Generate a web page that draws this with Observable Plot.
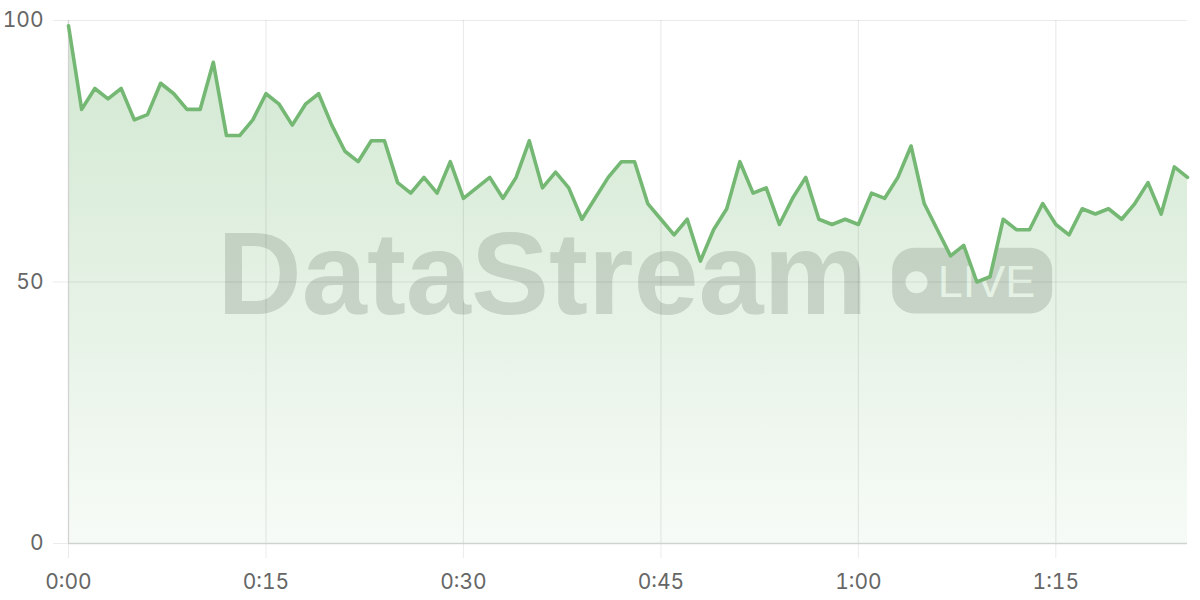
<!DOCTYPE html>
<html><head><meta charset="utf-8">
<script src="https://cdn.jsdelivr.net/npm/d3@7"></script>
<script src="https://cdn.jsdelivr.net/npm/@observablehq/plot@0.6"></script>
<style>body{margin:0;background:#fff} #chart svg{display:block}</style>
</head><body><div id="chart"></div>
<script>
// value per minute, 0:00 .. 1:25
const values = [99,83,87,85,87,81,82,88,86,83,83,92,78,78,81,86,84,80,84,86,
  80,75,73,77,77,69,67,70,67,73,66,68,70,66,70,77,68,71,68,62,
  66,70,73,73,65,62,59,62,54,60,64,73,67,68,61,66,70,62,61,62,
  61,67,66,70,76,65,60,55,57,50,51,62,60,60,65,61,59,64,63,64,
  62,65,69,63,72,70];
const xTicks = [0,15,30,45,60,75];
const yTicks = [0,50,100];
const watermark = "DataStream";
const badgeLabel = "LIVE";

const data = values.map((v, i) => ({minute: i, value: v}));
const fmt = m => `${Math.floor(m / 60)}:${String(m % 60).padStart(2, "0")}`;
const W = 1200, H = 600, mL = 68, mR = 13, mT = 20, mB = 57;
const cx = (mL + W - mR) / 2, cy = (mT + H - mB) / 2;
const green = "#74b874";
const wmColor = "#d9d9d9";

const plot = Plot.plot({
  width: W, height: H,
  marginLeft: mL, marginRight: mR, marginTop: mT, marginBottom: mB,
  style: {fontFamily: "Inter, 'Noto Sans', sans-serif", fontSize: "21px", color: "#666", background: "#fff", overflow: "visible"},
  x: {domain: [0, 85], label: null},
  y: {domain: [0, 100], label: null},
  marks: [
    // watermark
    Plot.text([watermark], {text: d => d, frameAnchor: "middle", dx: 542 - cx, dy: -5.6,
      fontSize: 117, fontWeight: "bold", fontFamily: "'Liberation Sans', Arial, sans-serif", fill: wmColor}),
    Plot.frame({fill: wmColor, stroke: "none", rx: 22,
      insetLeft: 891.7 - mL, insetRight: (W - mR) - 1051.7, insetTop: 247.3 - mT, insetBottom: (H - mB) - 313}),
    Plot.frame({fill: "#fff", stroke: "none", rx: 11,
      insetLeft: 905 - mL, insetRight: (W - mR) - 927, insetTop: 270.7 - mT, insetBottom: (H - mB) - 292.7}),
    Plot.text([badgeLabel], {text: d => d, frameAnchor: "middle", dx: 986 - cx, dy: 0.5,
      fontSize: 45, fontFamily: "'Liberation Sans', Arial, sans-serif", fill: "#fff"}),
    // gradient area
    Plot.areaY(data, {x: "minute", y: "value", fill: "url(#areaGrad)"}),
    // mask above the line
    Plot.areaY(data, {x: "minute", y1: "value", y2: () => 100, fill: "#fff"}),
    // grid
    Plot.gridX(xTicks, {stroke: "#000", strokeOpacity: 0.08, strokeWidth: 1.2}),
    Plot.gridY(yTicks, {stroke: "#000", strokeOpacity: 0.08, strokeWidth: 1.2}),
    Plot.axisX({ticks: xTicks, tickFormat: fmt, tickSize: 15, tickPadding: 16, stroke: "#000", strokeOpacity: 0.08, label: null}),
    Plot.axisY({ticks: yTicks, tickSize: 15, tickPadding: 10, stroke: "#000", strokeOpacity: 0.08, label: null}),
    Plot.ruleX([0], {stroke: "#d2d2d2", strokeWidth: 1.2}),
    Plot.ruleY([0], {stroke: "#cfd3cf", strokeWidth: 1.6}),
    // line
    Plot.line(data, {x: "minute", y: "value", stroke: green, strokeWidth: 3.6, strokeLinejoin: "round"})
  ]
});

const svg = d3.select(plot);
const defs = svg.insert("defs", ":first-child");
const lg = defs.append("linearGradient").attr("id", "areaGrad")
  .attr("x1", 0).attr("y1", 0).attr("x2", 0).attr("y2", 1);
lg.append("stop").attr("offset", "0%").attr("stop-color", green).attr("stop-opacity", 0.33);
lg.append("stop").attr("offset", "100%").attr("stop-color", green).attr("stop-opacity", 0.06);

document.getElementById("chart").append(plot);
</script>
</body></html>
